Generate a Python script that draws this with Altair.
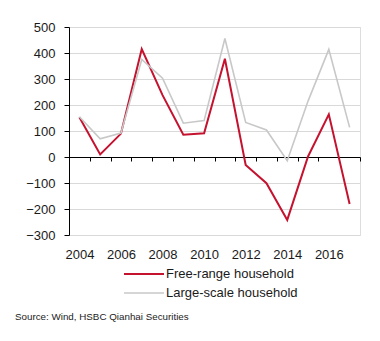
import altair as alt
import pandas as pd

years = list(range(2004, 2018))
free_range = [153, 10, 90, 415, 238, 86, 91, 378, -31, -101, -242, 2, 164, -181]
large_scale = [155, 70, 92, 375, 303, 130, 140, 456, 133, 104, -14, 215, 414, 114]
series_names = ["Free-range household", "Large-scale household"]
series_colors = ["#c4122f", "#c8c8c8"]
y_ticks = [-300, -200, -100, 0, 100, 200, 300, 400, 500]
x_ticks = [y - 0.5 for y in years] + [2017.5]
source_text = "Source: Wind, HSBC Qianhai Securities"

rows = []
for y, a, b in zip(years, free_range, large_scale):
    rows.append({"year": y, "value": a, "series": series_names[0]})
    rows.append({"year": y, "value": b, "series": series_names[1]})
df = pd.DataFrame(rows)

FONT = "Liberation Sans"

chart = alt.Chart(df).mark_line(strokeJoin="miter").encode(
    x=alt.X(
        "year:Q",
        scale=alt.Scale(domain=[2003.5, 2017.5], nice=False, zero=False),
        axis=alt.Axis(
            title=None,
            values=x_ticks,
            offset=-78,
            domainColor="#000000",
            domainWidth=1,
            tickColor="#000000",
            tickSize=4,
            grid=False,
            labelExpr="(datum.value % 2 == 1.5 && datum.value < 2017) ? (datum.value + 0.5) : ''",
            labelOffset=10.4,
            labelPadding=87,
            labelOverlap=False,
            labelFontSize=13,
            labelFont=FONT,
            labelColor="#1a1a1a",
            labelFlush=False,
        ),
    ),
    y=alt.Y(
        "value:Q",
        scale=alt.Scale(domain=[-300, 500], nice=False),
        axis=alt.Axis(
            title=None,
            values=y_ticks,
            domainColor="#000000",
            tickColor="#000000",
            tickSize=5,
            labelPadding=9,
            labelFontSize=13,
            labelFont=FONT,
            labelColor="#1a1a1a",
            gridColor="#d9d9d9",
            gridWidth=1,
        ),
    ),
    color=alt.Color(
        "series:N",
        scale=alt.Scale(domain=series_names, range=series_colors),
        legend=alt.Legend(
            title=None,
            orient="none",
            legendX=54,
            legendY=238,
            symbolType="M-1,0H4",
            symbolSize=256,
            symbolStrokeWidth=2,
            labelFontSize=13,
            labelFont=FONT,
            labelColor="#1a1a1a",
            labelOffset=25,
            rowPadding=3,
        ),
    ),
    strokeWidth=alt.StrokeWidth(
        "series:N",
        scale=alt.Scale(domain=series_names, range=[2, 1.6]),
        legend=None,
    ),
).properties(
    width=291,
    height=208,
    autosize=alt.AutoSizeParams(type="none"),
    padding={"left": 69, "top": 27, "right": 20, "bottom": 106},
    title=alt.TitleParams(
        source_text,
        orient="bottom",
        anchor="start",
        frame="group",
        dx=-54,
        offset=12,
        fontSize=9.8,
        font=FONT,
        fontWeight="normal",
        color="#222222",
    ),
).configure_view(stroke=None).configure(background="white")

chart.save("out.html", embed_options={"renderer": "svg", "actions": False})
